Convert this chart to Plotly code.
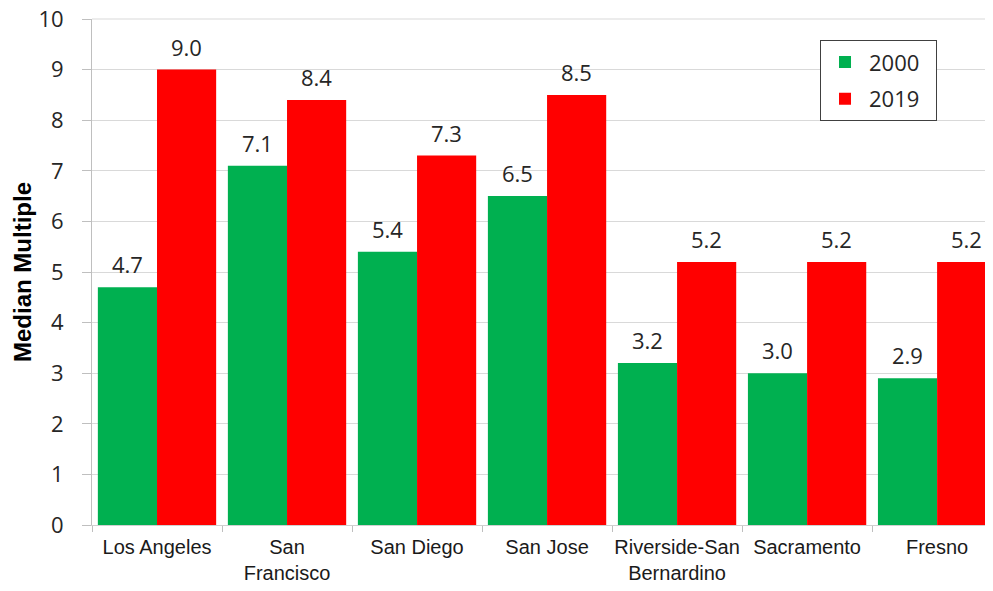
import plotly.graph_objects as go

categories = ["Los Angeles", "San<br>Francisco", "San Diego", "San Jose",
              "Riverside-San<br>Bernardino", "Sacramento", "Fresno"]
values_2000 = [4.7, 7.1, 5.4, 6.5, 3.2, 3.0, 2.9]
values_2019 = [9.0, 8.4, 7.3, 8.5, 5.2, 5.2, 5.2]
series_names = ["2000", "2019"]
y_ticks = list(range(0, 11))
y_title = "Median Multiple"

GREEN = "#00B050"
RED = "#FF0000"
GRID = "#d9d9d9"
NUM_FONT = "Open Sans, Noto Sans, sans-serif"
LBL_FONT = "Liberation Sans, Arial, sans-serif"
PAD = "\u00a0\u00a0"

fig = go.Figure()
fig.add_trace(go.Bar(x=categories, y=values_2000, name=series_names[0] + PAD,
                     legendgroup="a",
                     marker=dict(color=GREEN, line=dict(width=0))))
fig.add_trace(go.Bar(x=categories, y=values_2019, name=series_names[1] + PAD,
                     legendgroup="b",
                     marker=dict(color=RED, line=dict(width=0))))

bar_half = 130 * (1 - 0.09) / 4
for vals, shift in ((values_2000, -bar_half), (values_2019, bar_half)):
    for c, v in zip(categories, vals):
        fig.add_annotation(x=c, y=v, xref="x", yref="y", text=f"{v:.1f}",
                           showarrow=False, xshift=shift, yshift=6,
                           yanchor="bottom", xanchor="center",
                           font=dict(family=NUM_FONT, size=22, color="#262626"))

fig.add_annotation(x=-0.0777, y=0.5, xref="paper", yref="paper",
                   text=f"<b>{y_title}</b>", showarrow=False, textangle=-90,
                   xanchor="center", yanchor="middle",
                   font=dict(family="Liberation Sans, Arial, sans-serif",
                             size=24, color="#000000"))

# top gridline (frame at the top of the value axis)
fig.add_shape(type="line", xref="paper", yref="paper", x0=0, x1=1, y0=1, y1=1,
              line=dict(color=GRID, width=1), layer="below")

fig.update_layout(
    width=985, height=583,
    margin=dict(l=84, r=0, t=11, b=66),
    paper_bgcolor="white", plot_bgcolor="white",
    barmode="group", bargap=0.09, bargroupgap=0,
    showlegend=True,
    legend=dict(x=0.808, y=0.958, xanchor="left", yanchor="top",
                bordercolor="#404040", borderwidth=1, bgcolor="white",
                font=dict(family=NUM_FONT, size=22, color="#262626"),
                itemwidth=38, traceorder="grouped", tracegroupgap=5),
    xaxis=dict(range=[-0.5, 6.43], showgrid=False, showline=True,
               linecolor="#d0d0d0", linewidth=1, ticks="outside",
               tickson="boundaries", ticklen=6, tickcolor="#bfbfbf",
               tickangle=0, automargin=False, ticklabelstandoff=4,
               tickfont=dict(family=LBL_FONT, size=20, color="#1a1a1a")),
    yaxis=dict(range=[0, 10], tickvals=y_ticks, showgrid=True,
               gridcolor=GRID, gridwidth=1, showline=True,
               linecolor="#bfbfbf", linewidth=1, ticks="outside",
               ticklen=9, tickcolor="#bfbfbf", zeroline=False,
               automargin=False, ticklabelstandoff=14,
               ticklabeloverflow="allow",
               tickfont=dict(family=NUM_FONT, size=22, color="#262626")),
)

fig.write_html("out.html")
